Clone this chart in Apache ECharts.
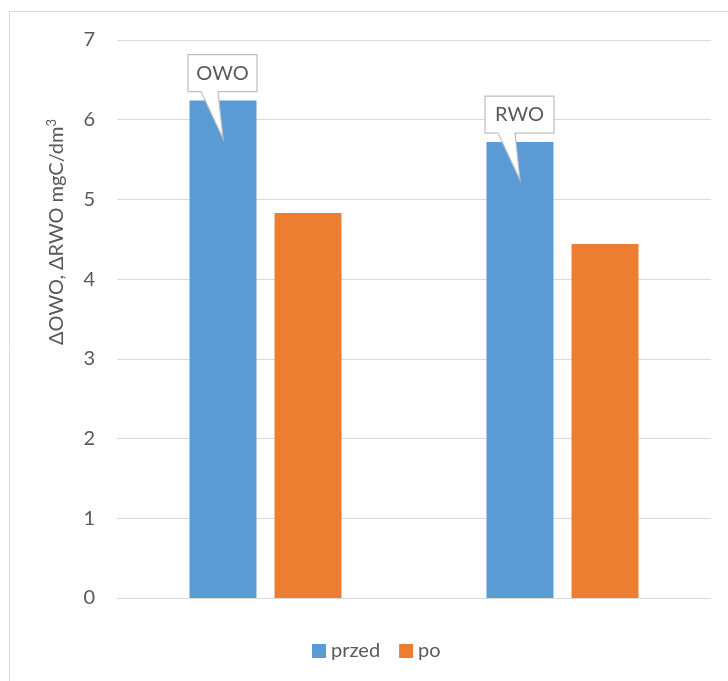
<!DOCTYPE html>
<html>
<head>
<meta charset="utf-8">
<script src="https://cdn.jsdelivr.net/npm/echarts@6/dist/echarts.min.js"></script>
<style>
  html, body { margin: 0; padding: 0; background: #ffffff; }
  #chart { width: 728px; height: 681px; }
</style>
</head>
<body>
<div id="chart"></div>
<script>
// Categories and measured values (mgC/dm3)
const categories = ['OWO', 'RWO'];
const przed = [6.24, 5.72];
const po = [4.83, 4.44];
// Callouts pinned to the "przed" bars
const calloutLabels = ['OWO', 'RWO'];
const yTicks = [0, 1, 2, 3, 4, 5, 6, 7];

const FONT = 'Lato';
const TEXT = '#595959';
const BAR_W = 67;
const BAR_GAP = 18;

const chart = echarts.init(document.getElementById('chart'), null, { renderer: 'canvas' });

// Callout shape: a box above the bar with a tail pointing into the bar
function renderCallout(params, api) {
  const cat = api.value(0);
  const val = api.value(1);
  const p = api.coord([cat, val]);
  const cx = p[0] - (BAR_W + BAR_GAP) / 2;
  const ty = p[1];
  const left = cx - 35, right = cx + 34;
  const top = ty - 46, bottom = ty - 9;
  return {
    type: 'group',
    children: [
      {
        type: 'polygon',
        shape: {
          points: [
            [left, top], [right, top], [right, bottom],
            [cx - 5, bottom], [cx, ty + 38], [cx - 22, bottom],
            [left, bottom]
          ]
        },
        style: { fill: '#ffffff', stroke: '#bfbfbf', lineWidth: 1.2 }
      },
      {
        type: 'text',
        x: (left + right) / 2,
        y: (top + bottom) / 2,
        style: {
          text: calloutLabels[params.dataIndex],
          fill: TEXT,
          font: '20px ' + FONT,
          align: 'center',
          verticalAlign: 'middle'
        }
      }
    ]
  };
}

chart.setOption({
  animation: false,
  backgroundColor: '#ffffff',
  textStyle: { fontFamily: FONT },
  grid: { left: 117, right: 17, top: 40, bottom: 83, containLabel: false },
  legend: {
    data: ['przed', 'po'],
    left: 307,
    top: 636,
    itemWidth: 14,
    itemHeight: 14,
    itemGap: 19,
    icon: 'rect',
    textStyle: { color: TEXT, fontSize: 20, fontFamily: FONT }
  },
  xAxis: {
    type: 'category',
    data: categories,
    axisLine: { show: false },
    axisTick: { show: false },
    axisLabel: { show: false }
  },
  yAxis: {
    type: 'value',
    min: yTicks[0],
    max: yTicks[yTicks.length - 1],
    interval: 1,
    axisLine: { show: false },
    axisTick: { show: false },
    axisLabel: { color: TEXT, fontSize: 20, fontFamily: FONT, margin: 22 },
    splitLine: { lineStyle: { color: '#d9d9d9', width: 1 } }
  },
  graphic: [
    {
      type: 'rect',
      shape: { x: 9.5, y: 11.5, width: 760, height: 700 },
      style: { fill: 'none', stroke: '#d9d9d9', lineWidth: 1 },
      silent: true
    },
    {
      type: 'text',
      x: 57,
      y: 232,
      rotation: Math.PI / 2,
      style: {
        text: '{t|ΔOWO, ΔRWO mgC/dm}{s|3}',
        align: 'center',
        verticalAlign: 'middle',
        rich: {
          t: { fontSize: 20, fontFamily: FONT, fill: TEXT, color: TEXT },
          s: { fontSize: 13, fontFamily: FONT, fill: TEXT, color: TEXT, verticalAlign: 'top', padding: [0, 0, 10, 0] }
        }
      }
    }
  ],
  series: [
    {
      name: 'przed',
      type: 'bar',
      data: przed,
      barWidth: BAR_W,
      barGap: (BAR_GAP / BAR_W * 100).toFixed(1) + '%',
      itemStyle: { color: '#5B9BD5' }
    },
    {
      name: 'po',
      type: 'bar',
      data: po,
      barWidth: BAR_W,
      itemStyle: { color: '#ED7D31' }
    },
    {
      name: 'callouts',
      type: 'custom',
      renderItem: renderCallout,
      data: przed.map((v, i) => [i, v]),
      z: 5,
      silent: true
    }
  ]
});
</script>
</body>
</html>
